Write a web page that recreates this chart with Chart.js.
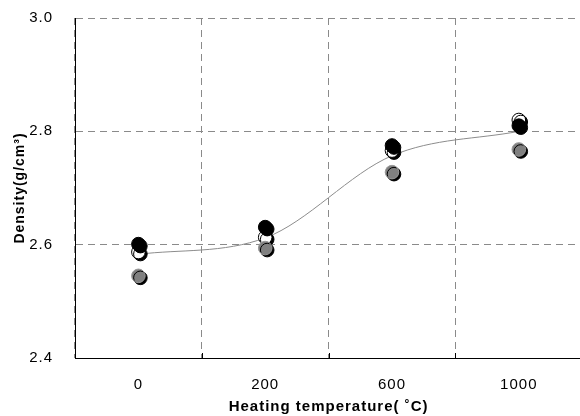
<!DOCTYPE html>
<html><head><meta charset="utf-8">
<script src="https://cdn.jsdelivr.net/npm/chart.js@4/dist/chart.umd.min.js"></script>
<style>html,body{margin:0;padding:0;overflow:hidden;background:#fff}#w{width:590px;height:416px;position:relative}</style>
</head><body><div id="w"><canvas id="c"></canvas></div>
<script>
const categories = ['0', '200', '600', '1000'];
const blackSeries = [2.601, 2.631, 2.775, 2.810];
const graySeries = [2.545, 2.594, 2.728, 2.768];
const whiteSeries = [2.587, 2.613, 2.766, 2.820];
const fitLine = [2.583, 2.612, 2.757, 2.800];
const yTicks = [2.4, 2.6, 2.8, 3.0];

const spacing = {
  id: 'spacing',
  beforeUpdate(c) { c.ctx.letterSpacing = '1px'; },
  beforeDraw(c) { c.ctx.letterSpacing = '1px'; }
};
const shadow = {
  id: 'shadow',
  beforeDatasetDraw(c, args) {
    if (args.index < 3) {
      const ctx = c.ctx; ctx.save();
      ctx.shadowColor = '#000'; ctx.shadowOffsetX = 2; ctx.shadowOffsetY = 2; ctx.shadowBlur = 0;
    }
  },
  afterDatasetDraw(c, args) { if (args.index < 3) c.ctx.restore(); }
};
const innerTicks = {
  id: 'innerTicks',
  afterDatasetsDraw(c) {
    const x = c.scales.x, a = c.chartArea, ctx = c.ctx;
    ctx.save(); ctx.strokeStyle = '#000'; ctx.lineWidth = 1;
    for (let i = 1; i < categories.length; i++) {
      const px = Math.round((x.getPixelForValue(i - 1) + x.getPixelForValue(i)) / 2) + 0.5;
      ctx.beginPath(); ctx.moveTo(px, a.bottom); ctx.lineTo(px, a.bottom - 5); ctx.stroke();
    }
    ctx.restore();
  }
};

const pt = (data, fill, border) => ({
  data, showLine: false, pointRadius: 6.8, pointHoverRadius: 6.8,
  pointBackgroundColor: fill, pointBorderColor: border, pointBorderWidth: 1
});

new Chart(document.getElementById('c'), {
  type: 'line',
  data: {
    labels: categories,
    datasets: [
      pt(blackSeries, '#000', '#000'),
      pt(graySeries, '#808080', '#999'),
      pt(whiteSeries, '#fff', '#000'),
      { data: fitLine, borderColor: '#8c8c8c', borderWidth: 1, pointRadius: 0, tension: 0.45, cubicInterpolationMode: 'monotone', fill: false }
    ]
  },
  options: {
    responsive: true, maintainAspectRatio: false, animation: false,
    layout: { padding: { top: 18, right: 5, left: 0, bottom: 0 } },
    plugins: { legend: { display: false }, tooltip: { enabled: false } },
    scales: {
      x: {
        offset: true,
        grid: { offset: true, color: '#8a8a8a', drawTicks: false, lineWidth: 1 },
        border: { display: true, color: '#000', width: 1, dash: [7, 5] },
        ticks: { color: '#000', font: { family: 'Liberation Sans, Arial', size: 15 }, padding: 18 },
        title: { display: true, text: 'Heating temperature( ˚C)', color: '#000', font: { family: 'Liberation Sans, Arial', size: 15, weight: 'bold' }, padding: { top: 0, bottom: 0 } },
        afterFit(s) { s.height = 58; }
      },
      y: {
        min: 2.4, max: 3.0,
        afterBuildTicks(s) { s.ticks = yTicks.map(v => ({ value: v })); },
        grid: { color: '#8a8a8a', drawTicks: false, lineWidth: 1 },
        border: { display: true, color: '#000', width: 1, dash: [7, 5] },
        ticks: { color: '#000', font: { family: 'Liberation Sans, Arial', size: 15 }, padding: 22, callback: v => Number(v).toFixed(1) },
        title: { display: true, text: 'Density(g/cm³)', color: '#000', font: { family: 'Liberation Sans, Arial', size: 14, weight: 'bold' }, padding: { top: 12, bottom: 0 } },
        afterFit(s) { s.width = 75; s.paddingTop = 0; s.paddingBottom = 0; }
      }
    }
  },
  plugins: [spacing, shadow, innerTicks]
});
</script></body></html>
